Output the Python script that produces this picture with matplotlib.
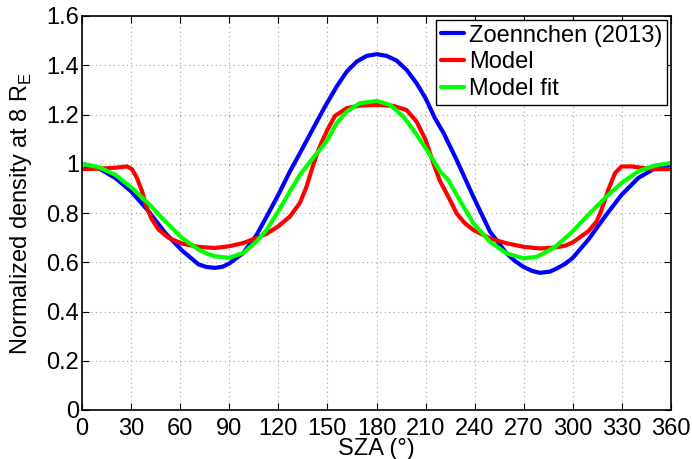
import matplotlib
matplotlib.use("Agg")
import matplotlib.pyplot as plt

plt.rcParams['font.family'] = ['Liberation Sans', 'DejaVu Sans']

# Zoennchen (2013) reference profile
sza_zoen = [0, 10.2, 20.4, 30, 40.7, 50.9, 61.1, 71.3, 76, 81.3, 86, 90, 98.6, 106.8,
            112.9, 120, 127.1, 133.2, 141.4, 148.5, 155.7, 161.8, 167.9, 174, 180.1,
            186.2, 192.3, 198.4, 204.5, 210, 215.7, 221, 229, 239.2, 249.4, 259.5,
            264.6, 269.7, 275, 279.9, 286, 290, 295.2, 300, 309.5, 319.7, 329.8, 340,
            350.2, 360]
dens_zoen = [1.0, 0.982, 0.942, 0.888, 0.807, 0.719, 0.648, 0.591, 0.581, 0.577,
             0.582, 0.595, 0.638, 0.712, 0.786, 0.874, 0.969, 1.043, 1.145, 1.232,
             1.314, 1.374, 1.415, 1.438, 1.445, 1.438, 1.419, 1.381, 1.327, 1.266,
             1.185, 1.125, 1.015, 0.866, 0.724, 0.636, 0.605, 0.582, 0.565, 0.557,
             0.562, 0.574, 0.593, 0.618, 0.692, 0.786, 0.874, 0.942, 0.982, 0.996]

# Model profile
sza_model = [0, 10.2, 20.4, 27.5, 30.6, 33.6, 36.7, 39.7, 42.8, 46.9, 53, 61.1, 71.3,
             81.3, 90, 98.6, 106.8, 112.9, 120, 127.1, 133.2, 137.3, 140.4, 143.4, 146,
             150, 154.6, 161.8, 169.9, 180.1, 190.3, 198.4, 204.5, 210, 214.7, 218.8,
             222, 224.9, 229, 234.1, 239.2, 249.4, 259.5, 269.7, 279.9, 288, 295.2,
             300, 309.5, 314.6, 317.6, 321.7, 325.8, 329.8, 336, 344.1, 350.2, 360]
dens_model = [0.978, 0.98, 0.984, 0.989, 0.978, 0.942, 0.888, 0.82, 0.773, 0.732,
              0.699, 0.676, 0.662, 0.658, 0.665, 0.678, 0.699, 0.716, 0.746, 0.786,
              0.841, 0.908, 0.976, 1.036, 1.08, 1.138, 1.194, 1.226, 1.236, 1.239,
              1.235, 1.218, 1.171, 1.097, 1.003, 0.93, 0.89, 0.853, 0.798, 0.758,
              0.731, 0.697, 0.677, 0.663, 0.656, 0.659, 0.667, 0.681, 0.726, 0.766,
              0.814, 0.895, 0.962, 0.989, 0.989, 0.982, 0.978, 0.978]

# Fitted model profile
sza_fit = [0, 10.2, 20.4, 30.6, 40.7, 50.9, 61.1, 71.3, 76.4, 81.3, 90, 98.6, 106.8,
           112.9, 120, 127.1, 133.2, 141.4, 147, 150, 155.7, 161.8, 169.9, 180.1, 188.2,
           196.4, 204.5, 210, 215.7, 219, 223.9, 229, 239.2, 249.4, 259.5, 269.7,
           277.9, 286, 289.1, 295.2, 300, 309.5, 319.7, 329.8, 340, 350.2, 360]
dens_fit = [1.0, 0.986, 0.955, 0.901, 0.838, 0.766, 0.699, 0.651, 0.635, 0.624, 0.618,
            0.638, 0.685, 0.732, 0.807, 0.888, 0.955, 1.025, 1.07, 1.097, 1.165, 1.212,
            1.246, 1.255, 1.239, 1.192, 1.118, 1.064, 1.003, 0.968, 0.934, 0.873,
            0.758, 0.683, 0.636, 0.616, 0.622, 0.65, 0.662, 0.697, 0.726, 0.793,
            0.861, 0.922, 0.969, 0.993, 1.003]

x_ticks = list(range(0, 361, 30))
y_ticks = [0, 0.2, 0.4, 0.6, 0.8, 1, 1.2, 1.4, 1.6]
y_tick_labels = ['0', '0.2', '0.4', '0.6', '0.8', '1', '1.2', '1.4', '1.6']

FS = 17

fig = plt.figure(figsize=(6.92, 4.59), dpi=100)
ax = fig.add_axes([82 / 692, 49 / 459, 589 / 692, 394 / 459])

line_kw = dict(lw=3, solid_joinstyle='round', solid_capstyle='round')
ax.plot(sza_zoen, dens_zoen, color=(0, 0, 1), label='Zoennchen (2013)', **line_kw)
ax.plot(sza_model, dens_model, color=(1, 0, 0), label='Model', **line_kw)
ax.plot(sza_fit, dens_fit, color=(0, 1, 0), label='Model fit', **line_kw)

ax.set_xlim(0, 360)
ax.set_ylim(0, 1.6)
ax.set_xticks(x_ticks)
ax.set_yticks(y_ticks)
ax.set_yticklabels(y_tick_labels)
ax.tick_params(direction='in', top=True, right=True, labelsize=FS, length=5,
               width=0.8)
ax.tick_params(axis='x', pad=6)
ax.tick_params(axis='y', pad=2)
ax.grid(True, linestyle=(0, (1, 3)), color='#a0a0a0', linewidth=0.8)
for s in ax.spines.values():
    s.set_linewidth(1.2)

ax.set_xlabel('SZA (°)', fontsize=FS, labelpad=-2)
ax.set_ylabel('Normalized density at 8 R$_\\mathregular{E}$', fontsize=FS, labelpad=9)

leg = ax.legend(loc='upper right', fontsize=FS, handlelength=1.0, handletextpad=0.2,
                borderaxespad=0.17, borderpad=0.2, labelspacing=0.2,
                fancybox=False, framealpha=1, edgecolor='black')
leg.get_frame().set_linewidth(1.0)

fig.savefig('out.png', dpi=100)
